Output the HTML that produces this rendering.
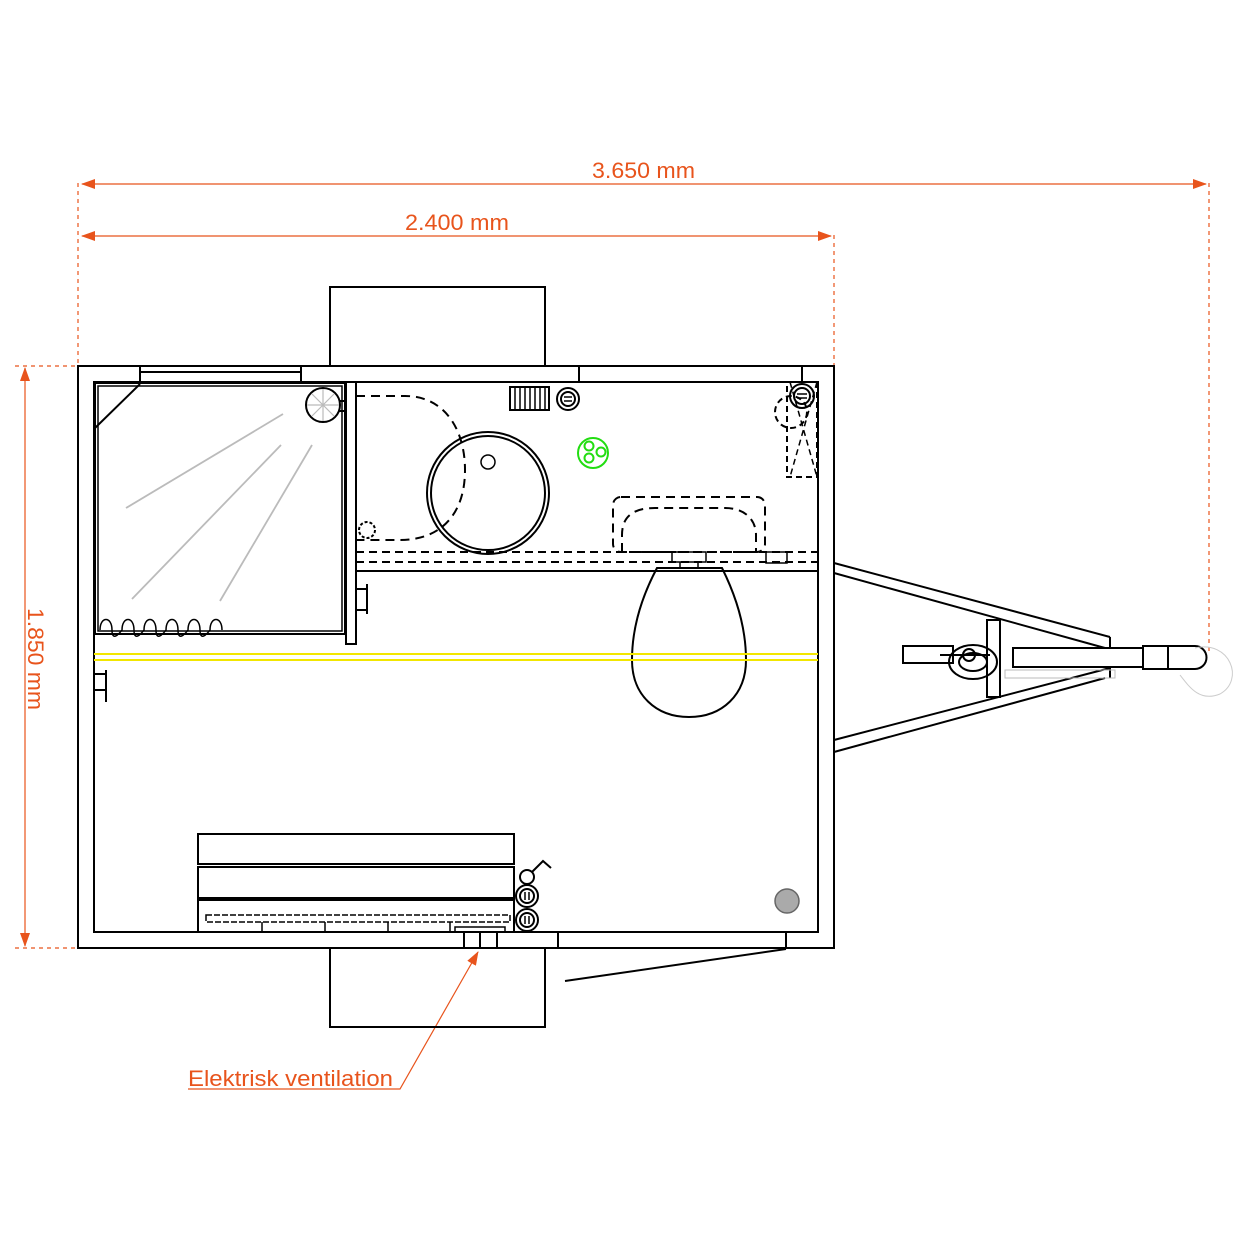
<!DOCTYPE html>
<html><head><meta charset="utf-8"><style>html,body{margin:0;padding:0;background:#fff}svg{display:block}</style></head>
<body>
<svg width="1250" height="1250" viewBox="0 0 1250 1250" xmlns="http://www.w3.org/2000/svg">
<defs>
<marker id="ar" markerWidth="14" markerHeight="10" refX="13" refY="5" orient="auto-start-reverse" markerUnits="userSpaceOnUse"><path d="M0,0 L14,5 L0,10 Z" fill="#e8541c"/></marker>
</defs>
<g stroke="#e8541c" stroke-width="1.2" fill="none">
<line x1="78" y1="183" x2="78" y2="366" stroke-dasharray="4,4"/>
<line x1="834" y1="235" x2="834" y2="366" stroke-dasharray="4,4"/>
<line x1="1209" y1="183" x2="1209" y2="652" stroke-dasharray="4,4"/>
<line x1="15" y1="366" x2="78" y2="366" stroke-dasharray="4,4"/>
<line x1="15" y1="948" x2="78" y2="948" stroke-dasharray="4,4"/>
<line x1="82" y1="184" x2="1206" y2="184" marker-start="url(#ar)" marker-end="url(#ar)"/>
<line x1="82" y1="236" x2="831" y2="236" marker-start="url(#ar)" marker-end="url(#ar)"/>
<line x1="25" y1="368" x2="25" y2="946" marker-start="url(#ar)" marker-end="url(#ar)"/>
<polyline points="188,1089 400,1089 478,952" marker-end="url(#ar)"/>
</g>
<g font-family="Liberation Sans, sans-serif" font-size="22" fill="#e8541c">
<text x="592" y="178" textLength="103" lengthAdjust="spacingAndGlyphs">3.650 mm</text>
<text x="405" y="230" textLength="104" lengthAdjust="spacingAndGlyphs">2.400 mm</text>
<text transform="translate(28,608) rotate(90)" textLength="102" lengthAdjust="spacingAndGlyphs">1.850 mm</text>
<text x="188" y="1086" textLength="205" lengthAdjust="spacingAndGlyphs">Elektrisk ventilation</text>
</g>
<g stroke="#000" stroke-width="2" fill="none">
<rect x="78" y="366" width="756" height="582"/>
<rect x="94" y="382" width="724" height="550"/>
<rect x="330" y="287" width="215" height="79"/>
<rect x="330" y="948" width="215" height="79"/>
<rect x="140" y="366" width="161" height="16"/>
<line x1="140" y1="372" x2="301" y2="372"/>
<line x1="579" y1="366" x2="579" y2="382"/>
<line x1="802" y1="366" x2="802" y2="382"/>
<line x1="558" y1="932" x2="558" y2="948"/>
<line x1="786" y1="932" x2="786" y2="948"/>
<line x1="565" y1="981" x2="786" y2="949"/>
<rect x="95" y="383" width="250" height="251"/>
<rect x="98" y="386" width="244" height="245" stroke-width="1.5"/>
<rect x="346" y="382" width="10" height="262"/>
<line x1="95" y1="428" x2="140" y2="384"/>
<path d="M100,630 c0,-14 12,-14 12,0 c0,14 10,0 10,0 c0,-14 12,-14 12,0 c0,14 10,0 10,0 c0,-14 12,-14 12,0 c0,14 10,0 10,0 c0,-14 12,-14 12,0 c0,14 10,0 10,0 c0,-14 12,-14 12,0 c0,14 10,0 10,0 c0,-14 12,-14 12,0" stroke-width="1.5"/>
<circle cx="323" cy="405" r="17"/>
<line x1="339" y1="401" x2="346" y2="401"/><line x1="339" y1="411" x2="346" y2="411"/>
<path d="M356,589 h11 M356,610 h11 M94,674 h12 M94,690 h12 M106,670 v32 M367,584 v30" stroke-width="2"/>
<line x1="356" y1="571" x2="818" y2="571"/>
<line x1="356" y1="552" x2="818" y2="552" stroke-dasharray="8,5"/>
<line x1="356" y1="562" x2="818" y2="562" stroke-dasharray="8,5"/>
<path d="M356,396 H405 C445,396 465,430 465,470 C465,515 440,540 400,540 H356" stroke-dasharray="9,6"/>
<circle cx="488" cy="493" r="61"/><circle cx="488" cy="493" r="57"/>
<circle cx="488" cy="462" r="7" stroke-width="1.5"/>
<circle cx="367" cy="530" r="8" stroke-dasharray="3,2"/>
<rect x="510" y="387" width="39" height="23"/>
<path d="M515,387v23M520,387v23M525,387v23M530,387v23M535,387v23M540,387v23M545,387v23" stroke-width="1.5"/>
<circle cx="568" cy="399" r="11"/><circle cx="568" cy="399" r="7"/><path d="M564,397h8M564,401h8" stroke-width="1.5"/>
<rect x="613" y="497" width="152" height="55" rx="8" stroke-dasharray="9,6"/>
<path d="M622,552 V535 C622,515 635,508 655,508 H725 C745,508 756,520 756,535 V552" stroke-dasharray="9,6"/>
<rect x="672" y="552" width="34" height="10" stroke-width="1.5"/>
<rect x="766" y="552" width="21" height="11" stroke-width="1.5"/>
<path d="M680,562v6M698,562v6" stroke-width="1.5"/>
<path d="M657,568 H722 C738,600 746,630 746,660 C746,695 722,717 689,717 C656,717 632,695 632,660 C632,630 640,600 657,568 Z"/>
<circle cx="802" cy="396" r="12"/><circle cx="802" cy="396" r="8"/><path d="M797,394h10M797,398h10" stroke-width="1.5"/>
<circle cx="791" cy="412" r="16" stroke-dasharray="6,4"/>
<rect x="787" y="382" width="30" height="95" stroke-dasharray="6,4"/>
<path d="M790,382 L817,477 M817,382 L790,477" stroke-dasharray="6,4" stroke-width="1.5"/>
<rect x="198" y="834" width="316" height="30"/>
<rect x="198" y="867" width="316" height="31"/>
<rect x="198" y="900" width="316" height="32"/>
<rect x="206" y="915" width="304" height="7" stroke-width="1.5" stroke-dasharray="6,2"/>
<rect x="455" y="927" width="50" height="5" stroke-width="1.5"/>
<path d="M262,922v10M325,922v10M388,922v10M450,922v10" stroke-width="1.5"/>
<rect x="464" y="932" width="33" height="16"/><line x1="480" y1="932" x2="480" y2="948"/>
<circle cx="527" cy="877" r="7"/><path d="M532,872 L543,861 L551,868"/>
<circle cx="527" cy="896" r="11"/><circle cx="527" cy="896" r="7"/><path d="M525,892v8M529,892v8" stroke-width="1.5"/>
<circle cx="527" cy="920" r="11"/><circle cx="527" cy="920" r="7"/><path d="M525,916v8M529,916v8" stroke-width="1.5"/>
<line x1="834" y1="563" x2="1110" y2="637"/>
<line x1="834" y1="573" x2="1105" y2="648"/>
<line x1="834" y1="740" x2="1110" y2="668"/>
<line x1="834" y1="752" x2="1105" y2="678"/>
<line x1="1110" y1="637" x2="1110" y2="648"/>
<line x1="1110" y1="668" x2="1110" y2="678"/>
<rect x="987" y="620" width="13" height="77"/>
<rect x="1013" y="648" width="130" height="19"/>
<path d="M1143,646 H1195 A11.5,11.5 0 0 1 1195,669 H1143 Z"/>
<rect x="1143" y="646" width="25" height="23"/>
<rect x="903" y="646" width="50" height="17"/>
<ellipse cx="973" cy="662" rx="24" ry="17"/>
<ellipse cx="973" cy="662" rx="14" ry="9"/>
<circle cx="969" cy="655" r="6"/>
<line x1="940" y1="655" x2="990" y2="655"/>
</g>
<g stroke="#bbb" stroke-width="1.8" fill="none">
<line x1="126" y1="508" x2="283" y2="414"/>
<line x1="132" y1="599" x2="281" y2="445"/>
<line x1="220" y1="601" x2="312" y2="445"/>
<path d="M323,389v32M307,405h32M312,394l22,22M334,394l-22,22" stroke-width="1.2"/>
<path d="M1195,648 C1230,640 1245,680 1220,694 C1200,702 1190,688 1180,675" stroke="#ccc" stroke-width="1"/>
<rect x="1005" y="670" width="110" height="8" stroke-width="1"/>
</g>
<line x1="94" y1="654" x2="818" y2="654" stroke="#f2e600" stroke-width="2"/>
<line x1="94" y1="660" x2="818" y2="660" stroke="#f2e600" stroke-width="2"/>
<g stroke="#22dd11" stroke-width="2" fill="none">
<circle cx="593" cy="453" r="15"/>
<circle cx="589" cy="446" r="4.5"/><circle cx="601" cy="452" r="4.5"/><circle cx="589" cy="458" r="4.5"/>
</g>
<circle cx="787" cy="901" r="12" fill="#aaa" stroke="#666" stroke-width="1.5"/>
</svg>
</body></html>
